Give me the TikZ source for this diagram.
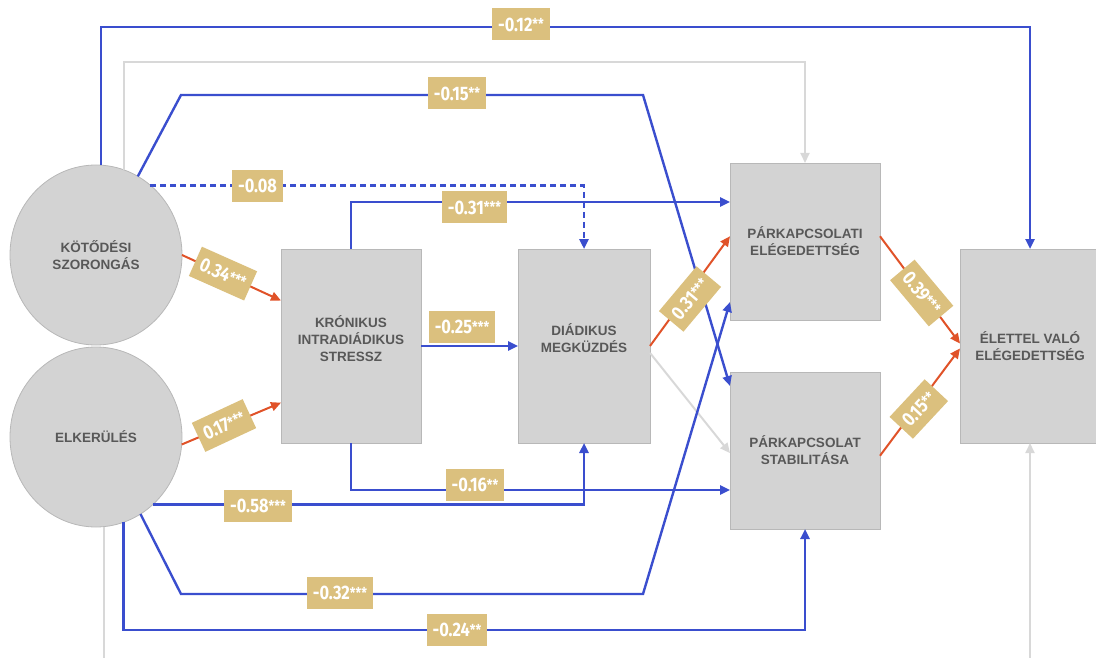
\documentclass[tikz,border=0pt]{standalone}
\usepackage{fontspec}
\setmainfont{Liberation Sans}
\newfontfamily\coeffont[FakeStretch=0.84]{Fira Sans}
\usetikzlibrary{arrows.meta,shapes.geometric,calc}

\definecolor{pathblue}{RGB}{58,78,206}
\definecolor{pathred}{RGB}{224,82,40}
\definecolor{pathgrey}{RGB}{216,216,216}
\definecolor{boxfill}{RGB}{211,211,211}
\definecolor{boxline}{RGB}{184,184,184}
\definecolor{coefgold}{RGB}{219,192,126}
\definecolor{labelgrey}{RGB}{88,88,88}

% significance stars, set smaller and raised
\newcommand{\stars}[1]{\raisebox{1.5pt}{\fontsize{15}{15}\selectfont #1}}

\begin{document}
\begin{tikzpicture}[x=1pt,y=-1pt,
  every node/.style={inner sep=0pt, outer sep=0pt},
  construct/.style={ellipse, draw=boxline, line width=0.8pt, fill=boxfill,
    minimum width=172pt, minimum height=180pt, text=labelgrey, align=center,
    font=\fontsize{13.5}{17}\selectfont\bfseries},
  measure/.style={rectangle, draw=boxline, line width=0.8pt, fill=boxfill,
    text=labelgrey, align=center, font=\fontsize{13.5}{17}\selectfont\bfseries},
  coef/.style={fill=coefgold, text=white, minimum height=32pt, inner xsep=6pt,
    font=\coeffont\bfseries\fontsize{19.5}{19.5}\selectfont},
  tip/.style={-{Triangle[length=10pt,width=9pt]}},
  negline/.style={pathblue, line width=2.4pt, tip},
  posline/.style={pathred, line width=2pt, tip},
  nsline/.style={pathgrey, line width=2pt},
]
\useasboundingbox (0,0) rectangle (1096,658);

% constructs
\node[construct] (anx) at (96,255) {KÖTŐDÉSI\\SZORONGÁS};
\node[construct] (avo) at (96,437) {ELKERÜLÉS};
\node[measure, minimum width=140pt, minimum height=194pt] (str) at (351,346)
  {KRÓNIKUS\\INTRADIÁDIKUS\\STRESSZ\\[-2pt]\mbox{}};
\node[measure, minimum width=132pt, minimum height=194pt] (dcp) at (584,346)
  {DIÁDIKUS\\MEGKÜZDÉS\\[-2pt]\mbox{}};
\node[measure, minimum width=150pt, minimum height=157pt] (sat) at (805,241.5)
  {PÁRKAPCSOLATI\\ELÉGEDETTSÉG};
\node[measure, minimum width=150pt, minimum height=157pt] (stb) at (805,450.5)
  {PÁRKAPCSOLAT\\STABILITÁSA};
\node[measure, minimum width=140pt, minimum height=194pt] (lif) at (1030,346)
  {ÉLETTEL VALÓ\\ELÉGEDETTSÉG};

% loose ends at the lower edge
\coordinate (avoend) at (avo.-85 |- 0,665);
\coordinate (lifend) at (lif.south |- 0,665);

% non-significant paths
\draw[nsline, tip] (anx.72) -- (anx.72 |- 0,62) -| (sat.north);
\draw[nsline, tip] (dcp.-6) -- (stb.182);
\draw[nsline] (avo.-85) -- (avoend);
\draw[nsline, tip] (lifend) -- (lif.south);

% negative paths
\draw[negline] (anx.87) -- (anx.87 |- 0,27) -| (lif.north);
\draw[negline] (anx.62) -- (181,95) -- (643,95) -- (stb.west |- 0,386);
\draw[negline, dash pattern=on 6pt off 4pt] (anx.52) -| (dcp.north);
\draw[negline] (str.north) |- (sat.west |- 0,202);
\draw[negline] (str.east) -- (dcp.west);
\draw[negline] (str.south) |- (stb.west |- 0,490);
\draw[negline] (avo.-50) -| (dcp.south);
\draw[negline] (avo.-60) -- (181,594) -- (643,594) -- (sat.west |- 0,302);
\draw[negline] (avo.-72) -- (avo.-72 |- 0,630) -| (stb.south);

% positive paths
\draw[posline] (anx.0) -- (str.147);
\draw[posline] (avo.-5) -- (str.219);
\draw[posline] (dcp.east) -- (sat.176);
\draw[posline] (sat.4) -- (lif.178);
\draw[posline] (stb.-4) -- (lif.182);

% path coefficients
\node[coef] (c1) at (521,24.5) {-0.12\stars{**}};
\node[coef] (c2) at (457,93.5) {-0.15\stars{**}};
\node[coef] (c3) at (257.5,186) {-0.08};
\node[coef] (c4) at (474.5,207.5) {-0.31\stars{***}};
\node[coef] (c5) at (462,327) {-0.25\stars{***}};
\node[coef] (c6) at (475,485) {-0.16\stars{**}};
\node[coef] (c7) at (258,506) {-0.58\stars{***}};
\node[coef] (c8) at (340,593) {-0.32\stars{***}};
\node[coef] (c9) at (457,630) {-0.24\stars{**}};
\node[coef, rotate=-24] (c10) at (223,273.6) {0.34\stars{***}};
\node[coef, rotate=25] (c11) at (224,425.5) {0.17\stars{***}};
\node[coef, rotate=50] (c12) at (690,299) {0.31\stars{***}};
\node[coef, rotate=-50] (c13) at (921.7,293) {0.39\stars{***}};
\node[coef, rotate=47] (c14) at (918.8,409) {0.15\stars{**}};
\end{tikzpicture}
\end{document}
